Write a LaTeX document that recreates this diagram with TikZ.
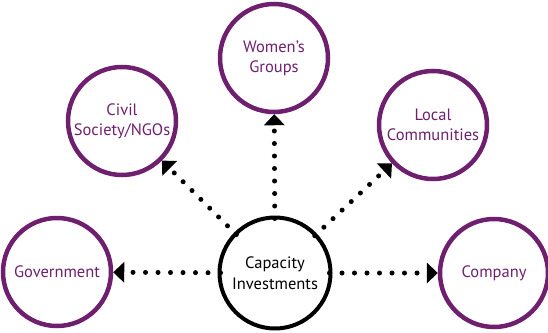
\documentclass[tikz,border=0pt]{standalone}
\usepackage{fontspec}
\setmainfont{PT Sans}
\usetikzlibrary{arrows.meta}
\definecolor{plum}{RGB}{110,32,110}
\tikzset{
  hub/.style={circle,draw=black,line width=4pt,minimum size=111pt,inner sep=0pt,align=center,text=black,font=\fontsize{16.5}{21}\selectfont},
  party/.style={circle,draw=plum,line width=4.5pt,minimum size=108pt,inner sep=0pt,align=center,text=plum,font=\fontsize{16.5}{20}\selectfont},
  conn/.style={line width=5pt,line cap=round,dash pattern=on 0pt off 12.5pt,shorten <=-3pt,
    -{Triangle[length=11pt,width=21pt,line width=0pt]}}
}
\begin{document}
\begin{tikzpicture}[x=1pt,y=-1pt]
\useasboundingbox (0,0) rectangle (548,332);
\node[hub] (C) at (275,273) {Capacity\\Investments};
\node[party] (W) at (274,58) {Women’s\\Groups};
\node[party] (V) at (122,121) {Civil\\Society/NGOs};
\node[party] (L) at (433,125) {Local\\Communities};
\node[party] (G) at (57,272) {Government};
\node[party] (Y) at (494,273) {Company};
\draw[conn] (C) -- (W);
\draw[conn] (C) -- (V);
\draw[conn] (C) -- (L);
\draw[conn] (C) -- (G);
\draw[conn] (C) -- (Y);
\end{tikzpicture}
\end{document}
